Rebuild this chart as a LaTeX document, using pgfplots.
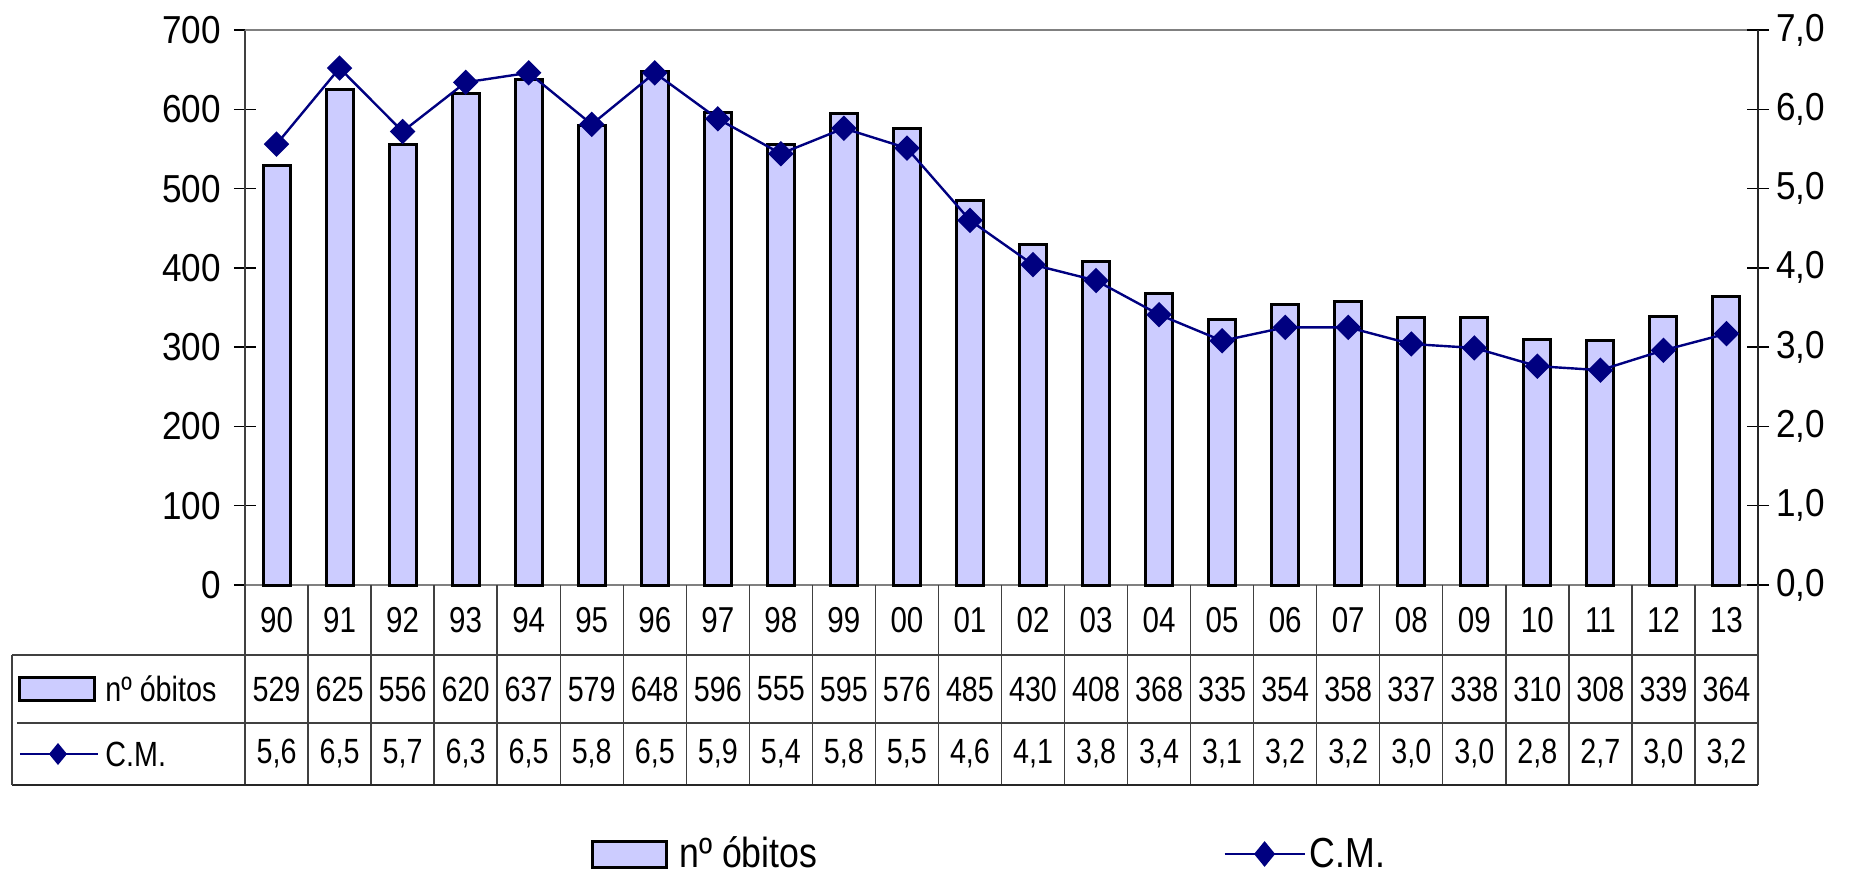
\documentclass[border=0pt]{standalone}
\usepackage{pgfplots}
\pgfplotsset{compat=1.18}
\usepackage{pgfplotstable}
\usepackage{fontspec}
\setmainfont{Liberation Sans}
\newfontfamily\tickfont[FakeStretch=0.9]{Liberation Sans}
\newfontfamily\tabfont[FakeStretch=0.82]{Liberation Sans}
\newfontfamily\legfont[FakeStretch=0.85]{Liberation Sans}
\definecolor{barfill}{RGB}{204,204,255}
\definecolor{navy}{RGB}{0,0,128}
\definecolor{axgray}{RGB}{128,128,128}

\pgfplotstableread{
x year obitos cm
0  90 529 5.56
1  91 625 6.52
2  92 556 5.72
3  93 620 6.34
4  94 637 6.46
5  95 579 5.81
6  96 648 6.46
7  97 596 5.88
8  98 555 5.44
9  99 595 5.76
10 00 576 5.51
11 01 485 4.60
12 02 430 4.04
13 03 408 3.84
14 04 368 3.41
15 05 335 3.08
16 06 354 3.25
17 07 358 3.25
18 08 337 3.04
19 09 338 2.99
20 10 310 2.76
21 11 308 2.71
22 12 339 2.96
23 13 364 3.17
}\datatable

\begin{document}
\begin{tikzpicture}
\begin{axis}[
  name=main, at={(0,0)}, anchor=south west,
  scale only axis, width=756.5pt, height=277.5pt,
  xmin=-0.5, xmax=23.5, ymin=0, ymax=700,
  xtick=\empty, ytick distance=100,
  axis x line*=bottom, axis y line*=left,
  x axis line style={-, axgray, line width=1.2pt},
  y axis line style={-, black!75, line width=1pt},
  tick align=center, major tick length=11pt,
  ytick style={black, line width=0.7pt},
  /pgf/number format/assume math mode=true,
  yticklabel style={font=\tickfont\fontsize{19.5}{19.5}\selectfont, xshift=-3pt},
  ybar, bar width=13.5pt,
  clip=false,
]
\addplot[fill=barfill, draw=black, line width=1.5pt] table[x=x, y=obitos]{\datatable};
\draw[axgray, line width=1.2pt] (rel axis cs:0,1) -- (rel axis cs:1,1);
\end{axis}
\begin{axis}[
  at={(0,0)}, anchor=south west,
  scale only axis, width=756.5pt, height=277.5pt,
  xmin=-0.5, xmax=23.5, ymin=0, ymax=7,
  axis x line=none, axis y line*=right,
  y axis line style={-, black!85, line width=1pt},
  tick align=center, major tick length=11pt,
  ytick style={black, line width=0.7pt},
  ytick distance=1,
  /pgf/number format/assume math mode=true,
  yticklabel style={font=\tickfont\fontsize{19.5}{19.5}\selectfont,
    /pgf/number format/.cd, fixed, fixed zerofill, precision=1, use comma},
  clip=false,
  legend style={at={(0.2287,-0.4847)}, anchor=west, draw=none, fill=none, inner sep=0pt,
    legend columns=2, font=\legfont\fontsize{21}{21}\selectfont,
    /tikz/every even column/.append style={column sep=201pt}},
]
\addlegendimage{legend image code/.code={\draw[fill=barfill, draw=black, line width=1.5pt] (0pt,-6.5pt) rectangle (37pt,6.5pt); \path (0pt,0pt) (41pt,0pt);}}
\addlegendentry{nº óbitos}
\addplot[navy, line width=1.2pt, mark=square*, mark size=3.9pt, mark options={rotate=45, solid},
  legend image code/.code={\draw[navy, line width=1.2pt] (0pt,0pt) -- (40pt,0pt);
    \fill[navy] (20pt,5.5pt) -- (24.5pt,0pt) -- (20pt,-5.5pt) -- (15.5pt,0pt) -- cycle;}]
  table[x=x, y=cm]{\datatable};
\addlegendentry{C.M.}
\end{axis}

\begin{scope}[x=1pt, y=1pt]
  \def\cw{31.5208}
  % table grid
  \foreach \k in {0,...,24} \draw[black!75, line width=0.7pt] ({\k*\cw},0) -- ({\k*\cw},-100);
  \draw[black!75, line width=0.7pt] (-116.5,-35) -- (756.5,-35);
  \draw[black!75, line width=0.7pt] (-114,-69) -- (756.5,-69);
  \draw[black!85, line width=0.8pt] (-116.5,-100) -- (756.5,-100);
  \draw[black!75, line width=0.7pt] (-116.5,-35) -- (-116.5,-100);
  % years
  \foreach \i/\yr in {0/90,1/91,2/92,3/93,4/94,5/95,6/96,7/97,8/98,9/99,10/00,11/01,12/02,13/03,14/04,15/05,16/06,17/07,18/08,19/09,20/10,21/11,22/12,23/13}
    \node[font=\tabfont\fontsize{18}{18}\selectfont, anchor=center] at ({(\i+0.5)*\cw},-17.5) {\yr};
  % values
  \foreach \i/\ob/\cm in {0/529/5{,}6,1/625/6{,}5,2/556/5{,}7,3/620/6{,}3,4/637/6{,}5,5/579/5{,}8,6/648/6{,}5,7/596/5{,}9,8/555/5{,}4,9/595/5{,}8,10/576/5{,}5,11/485/4{,}6,12/430/4{,}1,13/408/3{,}8,14/368/3{,}4,15/335/3{,}1,16/354/3{,}2,17/358/3{,}2,18/337/3{,}0,19/338/3{,}0,20/310/2{,}8,21/308/2{,}7,22/339/3{,}0,23/364/3{,}2}
  {
    \node[font=\tabfont\fontsize{17.5}{17.5}\selectfont, anchor=center] at ({(\i+0.5)*\cw},-52) {\ob};
    \node[font=\tabfont\fontsize{17.5}{17.5}\selectfont, anchor=center] at ({(\i+0.5)*\cw},-84.5) {\cm};
  }
  % row legends
  \draw[fill=barfill, draw=black, line width=1.5pt] (-112.5,-57.5) rectangle (-75,-46);
  \node[font=\tabfont\fontsize{17.5}{17.5}\selectfont, anchor=west, inner sep=0pt] at (-70,-52) {nº óbitos};
  \draw[navy, line width=1.2pt] (-112.5,-84.5) -- (-73.5,-84.5);
  \fill[navy] (-93.5,-79) -- (-89,-84.5) -- (-93.5,-90) -- (-98,-84.5) -- cycle;
  \node[font=\tabfont\fontsize{17.5}{17.5}\selectfont, anchor=west, inner sep=0pt] at (-70,-84.5) {C.M.};
\end{scope}
% page extent
\pgfresetboundingbox
\path (-122.5pt,-144.5pt) rectangle (804.5pt,292.5pt);
\end{tikzpicture}
\end{document}
